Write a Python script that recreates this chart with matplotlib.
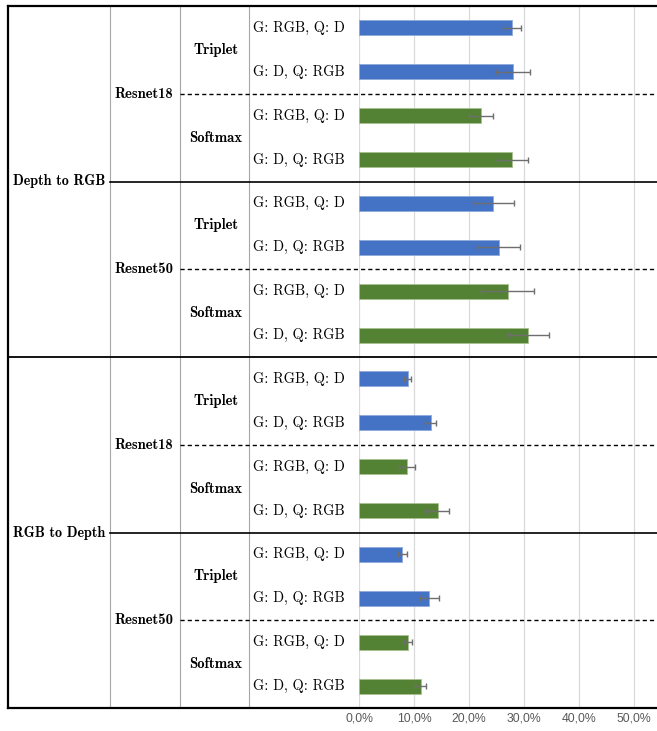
import matplotlib.pyplot as plt

directions = ["Depth to RGB", "RGB to Depth"]
backbones = ["Resnet18", "Resnet50"]
losses = ["Triplet", "Softmax"]
settings = ["G: RGB, Q: D", "G: D, Q: RGB"]

# mean accuracy (%) and its spread, rows listed top to bottom
accuracy = [27.8, 28.0, 22.2, 27.9, 24.4, 25.4, 27.0, 30.8,
            8.85, 13.0, 8.7, 14.3, 7.9, 12.8, 8.9, 11.2]
spread = [1.7, 3.1, 2.15, 2.9, 3.7, 3.9, 4.9, 3.7,
          0.65, 1.0, 1.4, 2.1, 0.9, 1.7, 0.75, 1.0]
ticks = [0, 10, 20, 30, 40, 50]

loss_colors = {"Triplet": "#4472C4", "Softmax": "#548235"}
loss_edges = {"Triplet": "#8EA9DB", "Softmax": "#A9C08F"}

W, H = 657, 731
fig = plt.figure(figsize=(W / 100, H / 100), dpi=100)


def fx(px):
    return px / W


def fy(py):
    return 1 - py / H


left, right, top, bottom = 8, 657, 6, 708
plot_left = 359
px_per_pct = 5.5

# bar panel
ax = fig.add_axes([fx(plot_left), fy(bottom), fx(right) - fx(plot_left), fy(top) - fy(bottom)])
n_rows = len(accuracy)
rows = []
for d in directions:
    for b in backbones:
        for l in losses:
            for s in settings:
                rows.append((d, b, l, s))

ypos = [i + 0.5 for i in range(n_rows)]
colors = [loss_colors[r[2]] for r in rows]
edges = [loss_edges[r[2]] for r in rows]
ax.barh(ypos, accuracy, height=0.34, color=colors, edgecolor=edges, linewidth=0.6,
        xerr=spread,
        error_kw=dict(ecolor="#6e6e6e", elinewidth=1.0, capsize=2, capthick=1.0, zorder=5),
        zorder=3)
ax.set_ylim(n_rows, 0)
ax.set_xlim(0, (right - plot_left) / px_per_pct)
ax.set_xticks(ticks)
ax.set_xticklabels([f"{t:.1f}%".replace(".", ",") for t in ticks],
                   family="Liberation Sans", fontsize=8.8, color="#595959")
ax.set_yticks([])
ax.tick_params(axis="x", length=0, pad=3.5)
ax.grid(axis="x", color="#d9d9d9", linewidth=0.9)
ax.set_axisbelow(True)
for sp in ax.spines.values():
    sp.set_visible(False)

# category labels and separators
lab = fig.add_axes([fx(left), fy(bottom), fx(right) - fx(left), fy(top) - fy(bottom)])
lab.set_xlim(left, right)
lab.set_ylim(n_rows, 0)
lab.axis("off")

col_lines = [110, 180, 249]
for x in col_lines:
    lab.plot([x, x], [0, n_rows], color="#a6a6a6", lw=0.8, clip_on=False)

lab.plot([left, right], [0, 0], color="black", lw=1.6, clip_on=False)
lab.plot([left, right], [n_rows, n_rows], color="black", lw=1.6, clip_on=False)
lab.plot([left, left], [0, n_rows], color="black", lw=1.6, clip_on=False)
lab.plot([left, right], [8, 8], color="black", lw=1.3, clip_on=False)
for y in [4, 12]:
    lab.plot([110, right], [y, y], color="black", lw=1.2, clip_on=False)
for y in [2, 6, 10, 14]:
    lab.plot([180, right], [y, y], color="black", lw=1.0, linestyle=(0, (3, 2.2)), clip_on=False)

serif = "cmr10"
bold = "cmb10"
for i, r in enumerate(rows):
    lab.text(253, i + 0.5, r[3], family=serif, fontsize=10.3, ha="left", va="center")
for k in range(0, n_rows, 2):
    lab.text(216, k + 1, rows[k][2], family=bold, fontsize=10.6, ha="center", va="center")
for k in range(0, n_rows, 4):
    lab.text(144, k + 2, rows[k][1], family=bold, fontsize=10.5, ha="center", va="center")
for k in range(0, n_rows, 8):
    lab.text(59, k + 4, rows[k][0], family=bold, fontsize=10.2, ha="center", va="center")

fig.savefig("out.png", dpi=100)
